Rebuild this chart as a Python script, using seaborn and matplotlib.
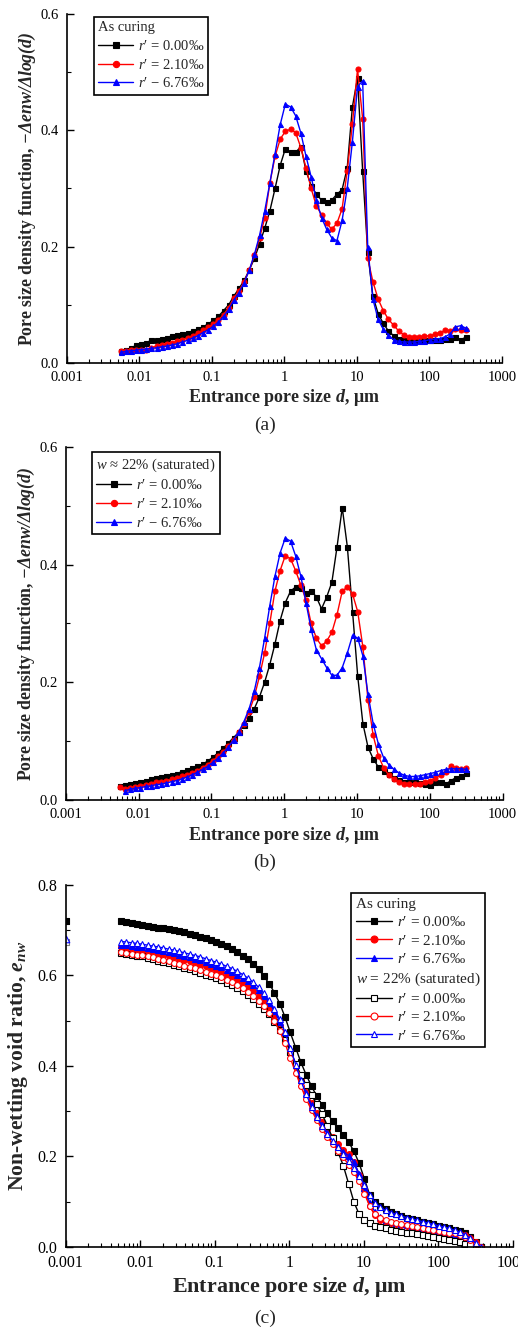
import numpy as np
import matplotlib
matplotlib.use("Agg")
import matplotlib.pyplot as plt
import seaborn as sns
from matplotlib.lines import Line2D
from matplotlib.ticker import LogLocator, NullFormatter

# ---------------- data ----------------
d_pore = [0.0055, 0.0065, 0.0077, 0.0090, 0.0106, 0.0125, 0.0147, 0.0173, 0.0204, 0.024,
          0.0283, 0.0333, 0.0392, 0.0462, 0.0544, 0.064, 0.0754, 0.0888, 0.105, 0.123,
          0.145, 0.171, 0.201, 0.237, 0.279, 0.329, 0.387, 0.456, 0.537, 0.632,
          0.744, 0.877, 1.03, 1.22, 1.43, 1.69, 1.99, 2.34, 2.76, 3.25,
          3.82, 4.5, 5.3, 6.25, 7.35, 8.66, 10.2, 12.0, 14.1, 16.6,
          19.6, 23.1, 27.2, 32.0, 37.7, 44.4, 52.3, 61.6, 72.5, 85.4,
          101, 119, 140, 165, 194, 228, 269, 317]

# (a) As curing
a_r000 = [0.020, 0.022, 0.026, 0.030, 0.033, 0.034, 0.040, 0.039, 0.042, 0.043,
          0.047, 0.048, 0.050, 0.052, 0.055, 0.058, 0.062, 0.067, 0.073, 0.080,
          0.090, 0.100, 0.115, 0.128, 0.142, 0.160, 0.180, 0.205, 0.232, 0.262,
          0.300, 0.340, 0.368, 0.362, 0.362, 0.372, 0.330, 0.305, 0.290, 0.280,
          0.276, 0.280, 0.290, 0.298, 0.335, 0.440, 0.490, 0.330, 0.190, 0.115,
          0.085, 0.068, 0.055, 0.047, 0.042, 0.040, 0.039, 0.038, 0.039, 0.040,
          0.040, 0.040, 0.040, 0.041, 0.042, 0.045, 0.040, 0.044]
a_r210 = [0.020, 0.021, 0.022, 0.023, 0.022, 0.023, 0.026, 0.029, 0.031, 0.033,
          0.035, 0.037, 0.040, 0.043, 0.047, 0.051, 0.056, 0.061, 0.067, 0.074,
          0.083, 0.095, 0.112, 0.124, 0.140, 0.160, 0.185, 0.215, 0.250, 0.310,
          0.355, 0.385, 0.398, 0.402, 0.396, 0.370, 0.335, 0.300, 0.270, 0.255,
          0.240, 0.230, 0.240, 0.265, 0.330, 0.410, 0.505, 0.420, 0.180, 0.140,
          0.110, 0.090, 0.075, 0.065, 0.055, 0.048, 0.045, 0.045, 0.045, 0.046,
          0.047, 0.049, 0.052, 0.056, 0.055, 0.058, 0.056, 0.057]
a_r676 = [0.018, 0.020, 0.021, 0.022, 0.023, 0.024, 0.025, 0.026, 0.028, 0.029,
          0.031, 0.033, 0.036, 0.039, 0.043, 0.047, 0.052, 0.057, 0.063, 0.070,
          0.080, 0.092, 0.108, 0.121, 0.138, 0.160, 0.187, 0.220, 0.262, 0.310,
          0.360, 0.410, 0.445, 0.440, 0.425, 0.395, 0.355, 0.320, 0.280, 0.250,
          0.230, 0.215, 0.210, 0.245, 0.300, 0.380, 0.475, 0.485, 0.200, 0.110,
          0.075, 0.058, 0.048, 0.040, 0.037, 0.036, 0.036, 0.036, 0.037, 0.038,
          0.040, 0.041, 0.042, 0.045, 0.050, 0.062, 0.064, 0.060]

# (b) w ~ 22% (saturated)
b_r000 = [0.024, 0.025, 0.027, 0.029, 0.031, 0.033, 0.035, 0.037, 0.039, 0.041,
          0.043, 0.045, 0.048, 0.051, 0.054, 0.058, 0.061, 0.066, 0.073, 0.080,
          0.088, 0.097, 0.106, 0.115, 0.127, 0.140, 0.155, 0.175, 0.200, 0.230,
          0.265, 0.305, 0.335, 0.355, 0.362, 0.360, 0.352, 0.356, 0.345, 0.325,
          0.345, 0.370, 0.430, 0.497, 0.430, 0.320, 0.210, 0.130, 0.090, 0.070,
          0.056, 0.050, 0.044, 0.038, 0.034, 0.031, 0.030, 0.030, 0.029, 0.028,
          0.026, 0.030, 0.030, 0.027, 0.033, 0.038, 0.040, 0.046]
b_r210 = [0.022, 0.019, 0.020, 0.022, 0.024, 0.026, 0.028, 0.030, 0.031, 0.033,
          0.035, 0.037, 0.040, 0.043, 0.046, 0.050, 0.055, 0.060, 0.067, 0.074,
          0.082, 0.091, 0.102, 0.115, 0.130, 0.150, 0.175, 0.210, 0.250, 0.300,
          0.355, 0.390, 0.415, 0.410, 0.390, 0.365, 0.340, 0.300, 0.275, 0.262,
          0.270, 0.285, 0.315, 0.355, 0.362, 0.350, 0.320, 0.260, 0.170, 0.110,
          0.075, 0.055, 0.042, 0.035, 0.030, 0.028, 0.027, 0.027, 0.028, 0.030,
          0.033, 0.037, 0.042, 0.048, 0.057, 0.055, 0.052, 0.055]
b_r676 = [np.nan, 0.016, 0.018, 0.020, 0.021, 0.023, 0.024, 0.026, 0.027, 0.029,
          0.031, 0.033, 0.036, 0.039, 0.043, 0.047, 0.052, 0.057, 0.064, 0.071,
          0.080, 0.090, 0.102, 0.116, 0.133, 0.155, 0.185, 0.225, 0.275, 0.330,
          0.380, 0.420, 0.445, 0.440, 0.415, 0.380, 0.335, 0.290, 0.255, 0.240,
          0.225, 0.212, 0.212, 0.225, 0.250, 0.280, 0.275, 0.245, 0.180, 0.130,
          0.095, 0.072, 0.060, 0.052, 0.046, 0.042, 0.040, 0.040, 0.041, 0.043,
          0.045, 0.047, 0.050, 0.052, 0.053, 0.053, 0.053, 0.052]

# (c) non-wetting void ratio
d_pore_c = d_pore + [373]
c_cur000 = [0.720, 0.718, 0.716, 0.714, 0.712, 0.710, 0.708, 0.706, 0.704, 0.702,
            0.700, 0.698, 0.695, 0.692, 0.689, 0.686, 0.683, 0.679, 0.675, 0.670,
            0.665, 0.659, 0.652, 0.644, 0.636, 0.626, 0.614, 0.598, 0.582, 0.562,
            0.538, 0.508, 0.474, 0.440, 0.408, 0.380, 0.355, 0.333, 0.313, 0.295,
            0.278, 0.262, 0.248, 0.232, 0.212, 0.185, 0.150, 0.115, 0.100, 0.090,
            0.083, 0.077, 0.072, 0.068, 0.065, 0.062, 0.059, 0.056, 0.053, 0.050,
            0.047, 0.044, 0.041, 0.038, 0.035, 0.030, 0.022, 0.012, 0.000]
c_cur210 = [0.663, 0.661, 0.659, 0.657, 0.655, 0.653, 0.651, 0.648, 0.646, 0.643,
            0.640, 0.637, 0.634, 0.631, 0.628, 0.624, 0.620, 0.616, 0.612, 0.607,
            0.602, 0.596, 0.590, 0.583, 0.575, 0.566, 0.555, 0.543, 0.528, 0.510,
            0.488, 0.462, 0.432, 0.400, 0.370, 0.343, 0.318, 0.296, 0.277, 0.260,
            0.243, 0.228, 0.215, 0.205, 0.188, 0.160, 0.125, 0.090, 0.070, 0.060,
            0.055, 0.052, 0.050, 0.048, 0.046, 0.044, 0.042, 0.040, 0.039, 0.037,
            0.036, 0.034, 0.033, 0.031, 0.029, 0.026, 0.020, 0.010, 0.000]
c_cur676 = [0.668, 0.667, 0.665, 0.664, 0.662, 0.660, 0.658, 0.656, 0.654, 0.651,
            0.649, 0.646, 0.643, 0.640, 0.637, 0.634, 0.630, 0.626, 0.622, 0.618,
            0.613, 0.608, 0.602, 0.595, 0.587, 0.578, 0.567, 0.555, 0.540, 0.521,
            0.498, 0.470, 0.437, 0.402, 0.370, 0.340, 0.313, 0.290, 0.270, 0.252,
            0.236, 0.222, 0.210, 0.202, 0.188, 0.162, 0.130, 0.098, 0.078, 0.066,
            0.060, 0.056, 0.053, 0.050, 0.048, 0.046, 0.044, 0.042, 0.040, 0.038,
            0.036, 0.034, 0.032, 0.029, 0.026, 0.022, 0.016, 0.008, 0.000]
c_sat000 = [0.650, 0.648, 0.646, 0.644, 0.642, 0.639, 0.636, 0.633, 0.630, 0.627,
            0.624, 0.621, 0.617, 0.614, 0.610, 0.606, 0.602, 0.598, 0.594, 0.589,
            0.584, 0.578, 0.572, 0.565, 0.557, 0.548, 0.538, 0.527, 0.514, 0.498,
            0.480, 0.458, 0.432, 0.405, 0.380, 0.358, 0.336, 0.315, 0.293, 0.268,
            0.240, 0.210, 0.180, 0.140, 0.100, 0.072, 0.060, 0.052, 0.047, 0.044,
            0.041, 0.038, 0.036, 0.034, 0.032, 0.030, 0.028, 0.026, 0.024, 0.022,
            0.020, 0.018, 0.016, 0.013, 0.010, 0.007, 0.004, 0.001, 0.000]
c_sat210 = [0.652, 0.650, 0.648, 0.646, 0.645, 0.642, 0.640, 0.637, 0.634, 0.631,
            0.628, 0.625, 0.622, 0.619, 0.616, 0.612, 0.608, 0.604, 0.600, 0.596,
            0.591, 0.585, 0.579, 0.572, 0.564, 0.555, 0.544, 0.532, 0.517, 0.499,
            0.477, 0.450, 0.418, 0.385, 0.355, 0.327, 0.302, 0.280, 0.260, 0.243,
            0.228, 0.213, 0.198, 0.182, 0.165, 0.145, 0.118, 0.090, 0.073, 0.064,
            0.059, 0.055, 0.052, 0.050, 0.048, 0.046, 0.044, 0.042, 0.040, 0.038,
            0.036, 0.034, 0.032, 0.030, 0.027, 0.022, 0.015, 0.006, 0.000]
c_sat676 = [0.675, 0.674, 0.672, 0.671, 0.669, 0.667, 0.665, 0.663, 0.661, 0.658,
            0.656, 0.653, 0.650, 0.647, 0.644, 0.641, 0.637, 0.633, 0.629, 0.625,
            0.620, 0.615, 0.609, 0.602, 0.594, 0.585, 0.574, 0.561, 0.545, 0.526,
            0.503, 0.474, 0.440, 0.403, 0.368, 0.337, 0.310, 0.287, 0.267, 0.250,
            0.235, 0.220, 0.205, 0.190, 0.174, 0.157, 0.138, 0.115, 0.098, 0.088,
            0.081, 0.076, 0.072, 0.068, 0.065, 0.062, 0.059, 0.056, 0.053, 0.050,
            0.047, 0.044, 0.041, 0.037, 0.033, 0.027, 0.019, 0.009, 0.000]
# stray points drawn at the left edge of panel (c)
edge_x = [0.001]
edge_cur000 = [0.720]
edge_sat676 = [0.680]
edge_sat000 = [0.674]

x_ticks = [0.001, 0.01, 0.1, 1, 10, 100, 1000]
x_ticklabels = ["0.001", "0.01", "0.1", "1", "10", "100", "1000"]
leg_ab = ["$r$′ = 0.00‰", "$r$′ = 2.10‰", "$r$′ − 6.76‰"]
leg_c = ["$r$′ = 0.00‰", "$r$′ = 2.10‰", "$r$′ = 6.76‰"]

# ---------------- style ----------------
sns.set_style("ticks")
plt.rcParams['font.family'] = ['Liberation Serif', 'DejaVu Serif']
plt.rcParams['mathtext.fontset'] = 'custom'
plt.rcParams['mathtext.rm'] = 'Liberation Serif'
plt.rcParams['mathtext.it'] = 'Liberation Serif:italic'
plt.rcParams['mathtext.bf'] = 'Liberation Serif:bold'
plt.rcParams['mathtext.bfit'] = 'Liberation Serif:italic:bold'

COLORS = ['black', '#ff0000', '#0000ff']
MARKERS = ['s', 'o', '^']

fig = plt.figure(figsize=(5.18, 13.28), dpi=100)
axA = fig.add_axes([0.129, 0.7267, 0.840, 0.2628])
axB = fig.add_axes([0.127, 0.3976, 0.8436, 0.2658])
axC = fig.add_axes([0.127, 0.0610, 0.863, 0.2726])


def draw(ax, x, y, color, marker, filled=True, ms=3.6):
    sns.lineplot(x=x, y=y, ax=ax, color=color, marker=marker, markersize=ms,
                 linewidth=1.0, markeredgecolor=color,
                 markerfacecolor=color if filled else 'white',
                 markeredgewidth=0.8, sort=False, errorbar=None, legend=False)


def style(ax, ymax, ymaj, ymin, fs_tick):
    ax.set_xscale('log')
    ax.set_xlim(1e-3, 1e3)
    ax.set_ylim(0, ymax)
    ax.set_xticks(x_ticks)
    ax.set_xticklabels(x_ticklabels)
    ax.xaxis.set_minor_locator(LogLocator(base=10, subs=np.arange(2, 10), numticks=20))
    ax.xaxis.set_minor_formatter(NullFormatter())
    ax.set_yticks(ymaj)
    ax.set_yticklabels([f"{v:.1f}" for v in ymaj])
    ax.set_yticks(ymin, minor=True)
    ax.tick_params(which='both', direction='in', top=False, right=False, colors='black')
    ax.tick_params(which='major', length=5, width=1.0, labelsize=fs_tick, pad=6)
    ax.tick_params(which='minor', length=3, width=0.8)
    for s in ['top', 'right']:
        ax.spines[s].set_visible(False)
    for s in ['left', 'bottom']:
        ax.spines[s].set_linewidth(1.2)
        ax.spines[s].set_color('black')


def handle(color, marker, filled=True, ms=4.5):
    return Line2D([], [], color=color, marker=marker, markersize=ms, lw=1.0,
                  markeredgecolor=color, markerfacecolor=color if filled else 'white',
                  markeredgewidth=0.8)


# ---- (a)
for y, c, m in zip([a_r000, a_r210, a_r676], COLORS, MARKERS):
    draw(axA, d_pore, y, c, m)
style(axA, 0.6, [0.0, 0.2, 0.4, 0.6], [0.1, 0.3, 0.5], 10.5)
axA.set_xlabel(r"Entrance pore size $\mathbfit{d}$, μm", fontsize=13, fontweight='bold')
axA.set_ylabel(r"Pore size density function, $\mathbfit{-\Delta enw/\Delta log(d)}$",
               fontsize=12.8, fontweight='bold')
legA = axA.legend([handle(c, m) for c, m in zip(COLORS, MARKERS)], leg_ab,
                  title="As curing", alignment='left', loc='upper left',
                  bbox_to_anchor=(0.062, 0.991), borderaxespad=0, fontsize=10.5,
                  title_fontsize=10.5, fancybox=False, framealpha=1, edgecolor='black',
                  handlelength=2.4, handletextpad=0.3, labelspacing=0.32, borderpad=0.3)
legA.get_frame().set_linewidth(1.2)

# ---- (b)
for y, c, m in zip([b_r000, b_r210, b_r676], COLORS, MARKERS):
    draw(axB, d_pore, y, c, m)
style(axB, 0.6, [0.0, 0.2, 0.4, 0.6], [0.1, 0.3, 0.5], 10.5)
axB.set_xlabel(r"Entrance pore size $\mathbfit{d}$, μm", fontsize=13, fontweight='bold')
axB.set_ylabel(r"Pore size density function, $\mathbfit{-\Delta enw/\Delta log(d)}$",
               fontsize=12.8, fontweight='bold')
legB = axB.legend([handle(c, m) for c, m in zip(COLORS, MARKERS)], leg_ab,
                  title="$w$ ≈ 22% (saturated)", alignment='left', loc='upper left',
                  bbox_to_anchor=(0.060, 0.986), borderaxespad=0, fontsize=10.5,
                  title_fontsize=10.5, fancybox=False, framealpha=1, edgecolor='black',
                  handlelength=2.4, handletextpad=0.3, labelspacing=0.32, borderpad=0.3)
legB.get_frame().set_linewidth(1.2)

# ---- (c)
for y, c, m in zip([c_cur000, c_cur210, c_cur676], COLORS, MARKERS):
    draw(axC, d_pore_c, y, c, m, filled=True, ms=4.2)
for y, c, m in zip([c_sat000, c_sat210, c_sat676], COLORS, MARKERS):
    draw(axC, d_pore_c, y, c, m, filled=False, ms=4.2)
sns.scatterplot(x=edge_x, y=edge_cur000, ax=axC, color='black', marker='s', s=22,
                edgecolor='black', linewidth=0.8, legend=False)
sns.scatterplot(x=edge_x, y=edge_sat000, ax=axC, color='white', marker='s', s=22,
                edgecolor='gray', linewidth=0.8, legend=False)
sns.scatterplot(x=edge_x, y=edge_sat676, ax=axC, color='white', marker='^', s=22,
                edgecolor='#0000ff', linewidth=0.8, legend=False)
style(axC, 0.8, [0.0, 0.2, 0.4, 0.6, 0.8], [0.1, 0.3, 0.5, 0.7], 11.5)
axC.set_xlabel(r"Entrance pore size $\mathbfit{d}$, μm", fontsize=15.8, fontweight='bold')
axC.set_ylabel(r"Non-wetting void ratio, $\mathbfit{e}_{\mathbfit{nw}}$",
               fontsize=15.6, fontweight='bold')
hdr1 = Line2D([], [], linestyle='none')
hdr2 = Line2D([], [], linestyle='none')
handlesC = ([hdr1] + [handle(c, m, True, 5) for c, m in zip(COLORS, MARKERS)]
            + [hdr2] + [handle(c, m, False, 5) for c, m in zip(COLORS, MARKERS)])
labelsC = ["As curing"] + leg_c + ["$w$ = 22% (saturated)"] + leg_c
legC = axC.legend(handlesC, labelsC, loc='upper left', bbox_to_anchor=(0.638, 0.978),
                  borderaxespad=0, fontsize=11, fancybox=False, framealpha=1,
                  edgecolor='black', handlelength=2.4, handletextpad=0.3,
                  labelspacing=0.28, borderpad=0.3)
legC.get_frame().set_linewidth(1.2)
try:
    for col in legC._legend_handle_box.get_children():
        for row in col.get_children():
            da, ta = row.get_children()
            if ta.get_text() in ("As curing", "$w$ = 22% (saturated)"):
                da.set_width(0)
                row.sep = 0
except Exception:
    pass

# label positions
for ax, xl, yl in [(axA, -0.100, -0.090), (axB, -0.102, -0.089), (axC, -0.110, -0.107)]:
    ax.xaxis.set_label_coords(0.5, xl)
    ax.xaxis.label.set_va('center')
    ax.yaxis.set_label_coords(yl, 0.5)
    ax.yaxis.label.set_va('center')
    ax.yaxis.label.set_ha('center')

fig.text(265 / 518, 1 - 425 / 1328, "(a)", ha='center', va='center', fontsize=14)
fig.text(265 / 518, 1 - 862 / 1328, "(b)", ha='center', va='center', fontsize=14)
fig.text(265 / 518, 1 - 1318 / 1328, "(c)", ha='center', va='center', fontsize=14)

fig.savefig("out.png", dpi=100)
